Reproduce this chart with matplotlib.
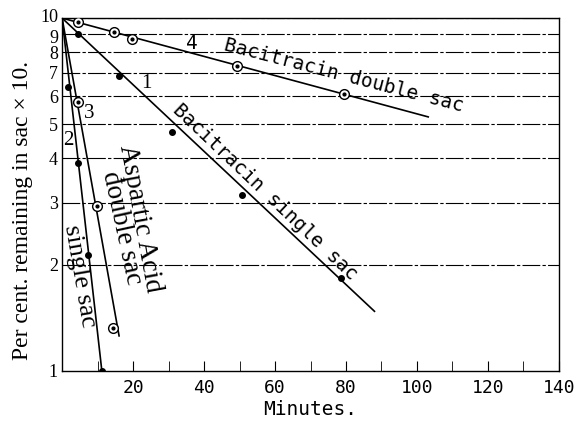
import numpy as np
import matplotlib
matplotlib.use("Agg")
import matplotlib.pyplot as plt
import matplotlib.transforms as mtransforms

# Curve 1 - Bacitracin single sac (filled dots)
bs_min = [4.6, 16.1, 31.1, 50.7, 78.6]
bs_val = [9.0, 6.85, 4.75, 3.15, 1.83]
bs_fit_min = [0, 88.2]
bs_fit_val = [10, 1.47]

# Curve 2 - Aspartic acid single sac (filled dots)
as_min = [1.8, 4.6, 7.4, 11.2]
as_val = [6.38, 3.88, 2.13, 1.0]
as_fit_min = [0, 11.2]
as_fit_val = [10, 1.0]

# Curve 3 - Aspartic acid double sac (open circles)
ad_min = [4.5, 9.9, 14.4]
ad_val = [5.78, 2.93, 1.32]
ad_fit_min = [0, 16.1]
ad_fit_val = [10, 1.25]

# Curve 4 - Bacitracin double sac (open circles)
bd_min = [4.5, 14.6, 19.7, 49.3, 79.4]
bd_val = [9.75, 9.13, 8.72, 7.31, 6.09]
bd_fit_min = [0, 103.4]
bd_fit_val = [10, 5.24]

y_ticks = [1, 2, 3, 4, 5, 6, 7, 8, 9, 10]
x_ticks = [20, 40, 60, 80, 100, 120, 140]

serif = "Liberation Serif"
letter = "DejaVu Sans Mono"

fig = plt.figure(figsize=(5.75, 4.21), dpi=100)
ax = fig.add_axes([0.108, 0.119, 0.864, 0.838])
ax.set_yscale("log")
ax.set_xlim(0, 140)
ax.set_ylim(1, 10)

# horizontal rules
for v in y_ticks[1:]:
    ax.axhline(v, color="black", lw=0.8, ls=(0, (16, 2, 3, 2)), zorder=1)

# fitted lines
for xs, ys in [(bs_fit_min, bs_fit_val), (as_fit_min, as_fit_val),
               (ad_fit_min, ad_fit_val), (bd_fit_min, bd_fit_val)]:
    ax.plot(xs, ys, color="black", lw=1.2, zorder=2, solid_capstyle="butt")

# filled points
ax.plot(bs_min, bs_val, "o", color="black", ms=4, zorder=3)
ax.plot(as_min, as_val, "o", color="black", ms=4, zorder=3)

# ringed points
for xs, ys in [(ad_min, ad_val), (bd_min, bd_val)]:
    ax.plot(xs, ys, "o", mfc="white", mec="black", mew=1.0, ms=7, zorder=3)
    ax.plot(xs, ys, "o", color="black", ms=2, zorder=4)

ax.yaxis.set_major_locator(matplotlib.ticker.FixedLocator(y_ticks))
ax.yaxis.set_minor_locator(matplotlib.ticker.NullLocator())
ax.set_yticklabels([str(v) for v in y_ticks], family=serif, fontsize=13)
ax.tick_params(axis="y", length=0, pad=3)
# nudge the crowded top labels apart a little
ylabs = ax.get_yticklabels()
ylabs[-1].set_transform(ylabs[-1].get_transform() +
                        mtransforms.ScaledTranslation(0, 2 / 72, fig.dpi_scale_trans))
ylabs[-2].set_transform(ylabs[-2].get_transform() +
                        mtransforms.ScaledTranslation(0, -1.5 / 72, fig.dpi_scale_trans))

ax.set_xticks(x_ticks)
ax.set_xticklabels([str(v) for v in x_ticks], family=letter, fontsize=13)
ax.set_xticks(np.arange(10, 140, 10), minor=True)
ax.tick_params(axis="x", which="both", direction="in", length=7, pad=6)

for s in ax.spines.values():
    s.set_linewidth(1.0)

ax.set_xlabel("Minutes.", family=letter, fontsize=14, labelpad=2)
fig.text(23 / 575, 1 - 210 / 421, "Per cent. remaining in sac \u00d7 10.",
         family=serif, fontsize=17, rotation=90, ha="center", va="center")

# curve numbers
ax.text(23.7, 6.54, "1", family=serif, fontsize=15, ha="center", va="center")
ax.text(1.7, 4.51, "2", family=serif, fontsize=15, ha="center", va="center")
ax.text(7.6, 5.38, "3", family=serif, fontsize=15, ha="center", va="center")
ax.text(36.6, 8.5, "4", family=letter, fontsize=14, ha="center", va="center")

rot = dict(ha="left", va="baseline", rotation_mode="anchor")
ax.text(45.4, 8.12, "Bacitracin double sac", family=letter, fontsize=14,
        rotation=-14.5, **rot)
ax.text(31.0, 5.45, "Bacitracin single sac", family=letter, fontsize=14,
        rotation=-43.5, **rot)
ax.text(16.3, 4.34, "Aspartic Acid", family=serif, fontsize=19.5,
        rotation=-79.6, **rot)
ax.text(11.5, 3.64, "double sac", family=serif, fontsize=19.5,
        rotation=-77.7, **rot)
ax.text(0.85, 2.57, "single sac", family=serif, fontsize=19,
        rotation=-80.3, **rot)

fig.savefig("out.png", dpi=100)
